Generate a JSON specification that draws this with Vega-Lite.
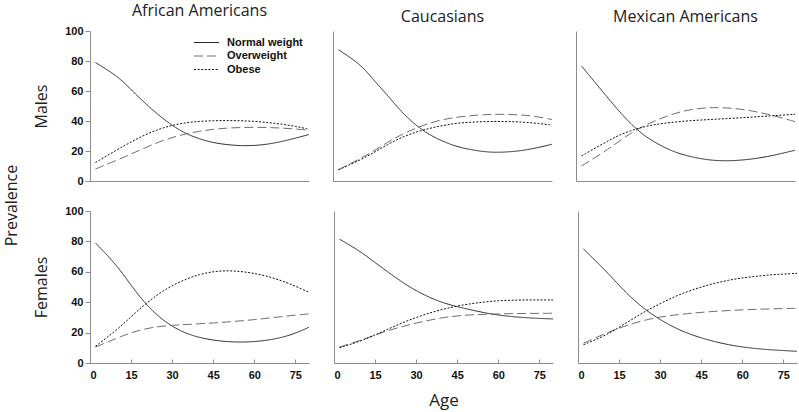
{
  "$schema": "https://vega.github.io/schema/vega-lite/v6.json",
  "background": "white",
  "padding": {"left": 3, "top": 3, "right": 2, "bottom": 2},
  "config": {
    "view": {"stroke": null},
    "axis": {"grid": false, "domainColor": "#8c8c8c", "tickColor": "#8c8c8c", "labelFont": "Liberation Sans", "labelFontWeight": "bold", "labelFontSize": 11, "labelColor": "#111111", "titleFont": "Open Sans", "titleFontWeight": "normal", "titleFontSize": 16, "titleColor": "#222222"},
    "title": {"font": "Open Sans", "fontWeight": "normal", "fontSize": 16, "color": "#222222", "offset": 6},
    "legend": {"orient": "top-right", "offset": 6, "title": null, "symbolType": "M-2.5,0H2.5", "symbolSize": 100, "labelFont": "Liberation Sans", "labelFontWeight": "bold", "labelFontSize": 11, "labelColor": "#111111", "rowPadding": 1.5, "labelOffset": 15},
    "line": {"interpolate": "basis"}
  },
  "title": {"text": "Prevalence", "orient": "left", "anchor": "middle", "fontSize": 16, "offset": 14},
  "spacing": 19,
  "resolve": {"scale": {"color": "independent", "strokeDash": "independent", "strokeWidth": "independent"}, "legend": {"color": "independent", "strokeDash": "independent", "strokeWidth": "independent"}},
  "datasets": {
    "aa_m": [
      {"age":2,"cat":"Normal weight","pct":79},{"age":10,"cat":"Normal weight","pct":70},{"age":15,"cat":"Normal weight","pct":61},{"age":20,"cat":"Normal weight","pct":52},{"age":25,"cat":"Normal weight","pct":44},{"age":30,"cat":"Normal weight","pct":37},{"age":35,"cat":"Normal weight","pct":31.5},{"age":40,"cat":"Normal weight","pct":28},{"age":45,"cat":"Normal weight","pct":25.5},{"age":50,"cat":"Normal weight","pct":24.2},{"age":55,"cat":"Normal weight","pct":23.5},{"age":60,"cat":"Normal weight","pct":23.6},{"age":65,"cat":"Normal weight","pct":24.5},{"age":70,"cat":"Normal weight","pct":26.3},{"age":75,"cat":"Normal weight","pct":28.5},{"age":80,"cat":"Normal weight","pct":31},
      {"age":2,"cat":"Overweight","pct":8},{"age":10,"cat":"Overweight","pct":14},{"age":15,"cat":"Overweight","pct":18},{"age":20,"cat":"Overweight","pct":22},{"age":25,"cat":"Overweight","pct":26},{"age":30,"cat":"Overweight","pct":29},{"age":35,"cat":"Overweight","pct":31.5},{"age":40,"cat":"Overweight","pct":33.2},{"age":45,"cat":"Overweight","pct":34.5},{"age":50,"cat":"Overweight","pct":35.3},{"age":55,"cat":"Overweight","pct":35.7},{"age":60,"cat":"Overweight","pct":35.8},{"age":65,"cat":"Overweight","pct":35.7},{"age":70,"cat":"Overweight","pct":35.3},{"age":75,"cat":"Overweight","pct":34.7},{"age":80,"cat":"Overweight","pct":33.8},
      {"age":2,"cat":"Obese","pct":12.3},{"age":10,"cat":"Obese","pct":21},{"age":15,"cat":"Obese","pct":26},{"age":20,"cat":"Obese","pct":30.8},{"age":25,"cat":"Obese","pct":34.5},{"age":30,"cat":"Obese","pct":37.2},{"age":35,"cat":"Obese","pct":38.9},{"age":40,"cat":"Obese","pct":39.8},{"age":45,"cat":"Obese","pct":40.2},{"age":50,"cat":"Obese","pct":40.3},{"age":55,"cat":"Obese","pct":40.2},{"age":60,"cat":"Obese","pct":39.8},{"age":65,"cat":"Obese","pct":39},{"age":70,"cat":"Obese","pct":37.9},{"age":75,"cat":"Obese","pct":36.5},{"age":80,"cat":"Obese","pct":34.5}
    ],
    "ca_m": [
      {"age":2,"cat":"Normal weight","pct":87.5},{"age":10,"cat":"Normal weight","pct":78},{"age":15,"cat":"Normal weight","pct":67},{"age":20,"cat":"Normal weight","pct":57},{"age":25,"cat":"Normal weight","pct":46},{"age":30,"cat":"Normal weight","pct":37.5},{"age":35,"cat":"Normal weight","pct":31},{"age":40,"cat":"Normal weight","pct":26.5},{"age":45,"cat":"Normal weight","pct":23},{"age":50,"cat":"Normal weight","pct":21},{"age":55,"cat":"Normal weight","pct":19.5},{"age":60,"cat":"Normal weight","pct":19},{"age":65,"cat":"Normal weight","pct":19.5},{"age":70,"cat":"Normal weight","pct":20.5},{"age":75,"cat":"Normal weight","pct":22.3},{"age":80,"cat":"Normal weight","pct":24.5},
      {"age":2,"cat":"Overweight","pct":7.5},{"age":10,"cat":"Overweight","pct":15},{"age":15,"cat":"Overweight","pct":20},{"age":20,"cat":"Overweight","pct":26},{"age":25,"cat":"Overweight","pct":31},{"age":30,"cat":"Overweight","pct":35},{"age":35,"cat":"Overweight","pct":38.5},{"age":40,"cat":"Overweight","pct":41},{"age":45,"cat":"Overweight","pct":42.5},{"age":50,"cat":"Overweight","pct":43.5},{"age":55,"cat":"Overweight","pct":44.3},{"age":60,"cat":"Overweight","pct":44.5},{"age":65,"cat":"Overweight","pct":44.4},{"age":70,"cat":"Overweight","pct":43.9},{"age":75,"cat":"Overweight","pct":42.8},{"age":80,"cat":"Overweight","pct":41},
      {"age":2,"cat":"Obese","pct":7.5},{"age":10,"cat":"Obese","pct":14},{"age":15,"cat":"Obese","pct":19},{"age":20,"cat":"Obese","pct":24.5},{"age":25,"cat":"Obese","pct":29},{"age":30,"cat":"Obese","pct":32.5},{"age":35,"cat":"Obese","pct":35},{"age":40,"cat":"Obese","pct":37},{"age":45,"cat":"Obese","pct":38.5},{"age":50,"cat":"Obese","pct":39.2},{"age":55,"cat":"Obese","pct":39.6},{"age":60,"cat":"Obese","pct":39.7},{"age":65,"cat":"Obese","pct":39.6},{"age":70,"cat":"Obese","pct":39.2},{"age":75,"cat":"Obese","pct":38.4},{"age":80,"cat":"Obese","pct":37.3}
    ],
    "ma_m": [
      {"age":2,"cat":"Normal weight","pct":76.7},{"age":10,"cat":"Normal weight","pct":59},{"age":15,"cat":"Normal weight","pct":48},{"age":20,"cat":"Normal weight","pct":38},{"age":25,"cat":"Normal weight","pct":30},{"age":30,"cat":"Normal weight","pct":24.5},{"age":35,"cat":"Normal weight","pct":20},{"age":40,"cat":"Normal weight","pct":17},{"age":45,"cat":"Normal weight","pct":15},{"age":50,"cat":"Normal weight","pct":13.7},{"age":55,"cat":"Normal weight","pct":13.4},{"age":60,"cat":"Normal weight","pct":13.8},{"age":65,"cat":"Normal weight","pct":14.8},{"age":70,"cat":"Normal weight","pct":16.3},{"age":75,"cat":"Normal weight","pct":18.3},{"age":80,"cat":"Normal weight","pct":20.5},
      {"age":2,"cat":"Overweight","pct":10},{"age":10,"cat":"Overweight","pct":19},{"age":15,"cat":"Overweight","pct":25.5},{"age":20,"cat":"Overweight","pct":32},{"age":25,"cat":"Overweight","pct":37},{"age":30,"cat":"Overweight","pct":41},{"age":35,"cat":"Overweight","pct":44.5},{"age":40,"cat":"Overweight","pct":47},{"age":45,"cat":"Overweight","pct":48.5},{"age":50,"cat":"Overweight","pct":49},{"age":55,"cat":"Overweight","pct":48.8},{"age":60,"cat":"Overweight","pct":48},{"age":65,"cat":"Overweight","pct":46.5},{"age":70,"cat":"Overweight","pct":44.5},{"age":75,"cat":"Overweight","pct":42.2},{"age":80,"cat":"Overweight","pct":39.6},
      {"age":2,"cat":"Obese","pct":16.7},{"age":10,"cat":"Obese","pct":25},{"age":15,"cat":"Obese","pct":30},{"age":20,"cat":"Obese","pct":33.7},{"age":25,"cat":"Obese","pct":36.3},{"age":30,"cat":"Obese","pct":38},{"age":35,"cat":"Obese","pct":39.1},{"age":40,"cat":"Obese","pct":40},{"age":45,"cat":"Obese","pct":40.6},{"age":50,"cat":"Obese","pct":41.1},{"age":55,"cat":"Obese","pct":41.6},{"age":60,"cat":"Obese","pct":42.1},{"age":65,"cat":"Obese","pct":42.7},{"age":70,"cat":"Obese","pct":43.3},{"age":75,"cat":"Obese","pct":43.9},{"age":80,"cat":"Obese","pct":44.5}
    ],
    "aa_f": [
      {"age":2,"cat":"Normal weight","pct":79},{"age":10,"cat":"Normal weight","pct":64},{"age":15,"cat":"Normal weight","pct":51},{"age":20,"cat":"Normal weight","pct":39.5},{"age":25,"cat":"Normal weight","pct":30.5},{"age":30,"cat":"Normal weight","pct":24},{"age":35,"cat":"Normal weight","pct":19.5},{"age":40,"cat":"Normal weight","pct":16.7},{"age":45,"cat":"Normal weight","pct":15},{"age":50,"cat":"Normal weight","pct":14},{"age":55,"cat":"Normal weight","pct":13.7},{"age":60,"cat":"Normal weight","pct":14},{"age":65,"cat":"Normal weight","pct":15},{"age":70,"cat":"Normal weight","pct":16.7},{"age":75,"cat":"Normal weight","pct":19.5},{"age":80,"cat":"Normal weight","pct":23.5},
      {"age":2,"cat":"Overweight","pct":10.5},{"age":10,"cat":"Overweight","pct":16.5},{"age":15,"cat":"Overweight","pct":20},{"age":20,"cat":"Overweight","pct":22.5},{"age":25,"cat":"Overweight","pct":24},{"age":30,"cat":"Overweight","pct":24.8},{"age":35,"cat":"Overweight","pct":25.3},{"age":40,"cat":"Overweight","pct":25.8},{"age":45,"cat":"Overweight","pct":26.3},{"age":50,"cat":"Overweight","pct":27},{"age":55,"cat":"Overweight","pct":27.7},{"age":60,"cat":"Overweight","pct":28.5},{"age":65,"cat":"Overweight","pct":29.5},{"age":70,"cat":"Overweight","pct":30.5},{"age":75,"cat":"Overweight","pct":31.5},{"age":80,"cat":"Overweight","pct":32.3},
      {"age":2,"cat":"Obese","pct":11},{"age":10,"cat":"Obese","pct":22},{"age":15,"cat":"Obese","pct":30.5},{"age":20,"cat":"Obese","pct":38.5},{"age":25,"cat":"Obese","pct":45.5},{"age":30,"cat":"Obese","pct":51},{"age":35,"cat":"Obese","pct":55.2},{"age":40,"cat":"Obese","pct":58.3},{"age":45,"cat":"Obese","pct":60.2},{"age":50,"cat":"Obese","pct":60.8},{"age":55,"cat":"Obese","pct":60.3},{"age":60,"cat":"Obese","pct":59},{"age":65,"cat":"Obese","pct":57},{"age":70,"cat":"Obese","pct":54.2},{"age":75,"cat":"Obese","pct":50.6},{"age":80,"cat":"Obese","pct":46.5}
    ],
    "ca_f": [
      {"age":2,"cat":"Normal weight","pct":81.5},{"age":10,"cat":"Normal weight","pct":73},{"age":15,"cat":"Normal weight","pct":66},{"age":20,"cat":"Normal weight","pct":59.5},{"age":25,"cat":"Normal weight","pct":53},{"age":30,"cat":"Normal weight","pct":47.5},{"age":35,"cat":"Normal weight","pct":43},{"age":40,"cat":"Normal weight","pct":39.5},{"age":45,"cat":"Normal weight","pct":37},{"age":50,"cat":"Normal weight","pct":35},{"age":55,"cat":"Normal weight","pct":33},{"age":60,"cat":"Normal weight","pct":31.5},{"age":65,"cat":"Normal weight","pct":30.5},{"age":70,"cat":"Normal weight","pct":29.8},{"age":75,"cat":"Normal weight","pct":29.3},{"age":80,"cat":"Normal weight","pct":29},
      {"age":2,"cat":"Overweight","pct":10.5},{"age":10,"cat":"Overweight","pct":15},{"age":15,"cat":"Overweight","pct":18.5},{"age":20,"cat":"Overweight","pct":21.5},{"age":25,"cat":"Overweight","pct":24},{"age":30,"cat":"Overweight","pct":26.3},{"age":35,"cat":"Overweight","pct":28.2},{"age":40,"cat":"Overweight","pct":30},{"age":45,"cat":"Overweight","pct":31},{"age":50,"cat":"Overweight","pct":31.7},{"age":55,"cat":"Overweight","pct":32},{"age":60,"cat":"Overweight","pct":32.3},{"age":65,"cat":"Overweight","pct":32.5},{"age":70,"cat":"Overweight","pct":32.6},{"age":75,"cat":"Overweight","pct":32.7},{"age":80,"cat":"Overweight","pct":32.7},
      {"age":2,"cat":"Obese","pct":10},{"age":10,"cat":"Obese","pct":14.5},{"age":15,"cat":"Obese","pct":18.5},{"age":20,"cat":"Obese","pct":22.5},{"age":25,"cat":"Obese","pct":26.5},{"age":30,"cat":"Obese","pct":30},{"age":35,"cat":"Obese","pct":33},{"age":40,"cat":"Obese","pct":35.5},{"age":45,"cat":"Obese","pct":37.5},{"age":50,"cat":"Obese","pct":39},{"age":55,"cat":"Obese","pct":40.2},{"age":60,"cat":"Obese","pct":41},{"age":65,"cat":"Obese","pct":41.3},{"age":70,"cat":"Obese","pct":41.5},{"age":75,"cat":"Obese","pct":41.5},{"age":80,"cat":"Obese","pct":41.5}
    ],
    "ma_f": [
      {"age":2,"cat":"Normal weight","pct":75},{"age":10,"cat":"Normal weight","pct":61},{"age":15,"cat":"Normal weight","pct":51},{"age":20,"cat":"Normal weight","pct":42},{"age":25,"cat":"Normal weight","pct":34.5},{"age":30,"cat":"Normal weight","pct":28.5},{"age":35,"cat":"Normal weight","pct":23.5},{"age":40,"cat":"Normal weight","pct":19.5},{"age":45,"cat":"Normal weight","pct":16.5},{"age":50,"cat":"Normal weight","pct":14},{"age":55,"cat":"Normal weight","pct":12},{"age":60,"cat":"Normal weight","pct":10.5},{"age":65,"cat":"Normal weight","pct":9.5},{"age":70,"cat":"Normal weight","pct":8.7},{"age":75,"cat":"Normal weight","pct":8.2},{"age":80,"cat":"Normal weight","pct":7.7},
      {"age":2,"cat":"Overweight","pct":13},{"age":10,"cat":"Overweight","pct":19.5},{"age":15,"cat":"Overweight","pct":23},{"age":20,"cat":"Overweight","pct":26},{"age":25,"cat":"Overweight","pct":28.5},{"age":30,"cat":"Overweight","pct":30.3},{"age":35,"cat":"Overweight","pct":31.5},{"age":40,"cat":"Overweight","pct":32.5},{"age":45,"cat":"Overweight","pct":33.3},{"age":50,"cat":"Overweight","pct":34},{"age":55,"cat":"Overweight","pct":34.5},{"age":60,"cat":"Overweight","pct":35},{"age":65,"cat":"Overweight","pct":35.3},{"age":70,"cat":"Overweight","pct":35.6},{"age":75,"cat":"Overweight","pct":35.8},{"age":80,"cat":"Overweight","pct":36},
      {"age":2,"cat":"Obese","pct":12},{"age":10,"cat":"Obese","pct":18},{"age":15,"cat":"Obese","pct":23.5},{"age":20,"cat":"Obese","pct":29},{"age":25,"cat":"Obese","pct":34.5},{"age":30,"cat":"Obese","pct":39},{"age":35,"cat":"Obese","pct":43.5},{"age":40,"cat":"Obese","pct":47},{"age":45,"cat":"Obese","pct":50},{"age":50,"cat":"Obese","pct":52.5},{"age":55,"cat":"Obese","pct":54.5},{"age":60,"cat":"Obese","pct":56},{"age":65,"cat":"Obese","pct":57},{"age":70,"cat":"Obese","pct":58},{"age":75,"cat":"Obese","pct":58.5},{"age":80,"cat":"Obese","pct":59}
    ]
  },
  "vconcat": [
    {
      "spacing": 22,
      "resolve": {"scale": {"color": "independent", "strokeDash": "independent", "strokeWidth": "independent"}, "legend": {"color": "independent", "strokeDash": "independent", "strokeWidth": "independent"}},
      "hconcat": [
        {
          "data": {"name": "aa_m"}, "width": 219, "height": 150,
          "title": "African Americans",
          "mark": {"type": "line"},
          "encoding": {
            "x": {"field": "age", "type": "quantitative", "scale": {"domain": [0, 80], "nice": false}, "axis": {"labels": false, "ticks": false, "title": null}},
            "y": {"field": "pct", "type": "quantitative", "scale": {"domain": [0, 100], "nice": false}, "axis": {"values": [0, 20, 40, 60, 80, 100], "tickSize": 5, "labelPadding": 2, "title": "Males", "titlePadding": 15}},
            "color": {"field": "cat", "type": "nominal", "scale": {"domain": ["Normal weight", "Overweight", "Obese"], "range": ["#2a2a2a", "#6e6e6e", "#111111"]}, "legend": {}},
            "strokeDash": {"field": "cat", "type": "nominal", "scale": {"domain": ["Normal weight", "Overweight", "Obese"], "range": [[1, 0], [9, 4], [2, 1.6]]}, "legend": {}},
            "strokeWidth": {"field": "cat", "type": "ordinal", "scale": {"domain": ["Normal weight", "Overweight", "Obese"], "range": [1, 1, 2.2]}, "legend": {}}
          }
        },
        {
          "data": {"name": "ca_m"}, "width": 219, "height": 150,
          "title": "Caucasians",
          "mark": {"type": "line"},
          "encoding": {
            "x": {"field": "age", "type": "quantitative", "scale": {"domain": [0, 80], "nice": false}, "axis": {"labels": false, "ticks": false, "title": null}},
            "y": {"field": "pct", "type": "quantitative", "scale": {"domain": [0, 100], "nice": false}, "axis": {"labels": false, "ticks": false, "title": null}},
            "color": {"field": "cat", "type": "nominal", "scale": {"domain": ["Normal weight", "Overweight", "Obese"], "range": ["#2a2a2a", "#6e6e6e", "#111111"]}, "legend": null},
            "strokeDash": {"field": "cat", "type": "nominal", "scale": {"domain": ["Normal weight", "Overweight", "Obese"], "range": [[1, 0], [9, 4], [2, 1.6]]}, "legend": null},
            "strokeWidth": {"field": "cat", "type": "ordinal", "scale": {"domain": ["Normal weight", "Overweight", "Obese"], "range": [1, 1, 2.2]}, "legend": null}
          }
        },
        {
          "data": {"name": "ma_m"}, "width": 219, "height": 150,
          "title": "Mexican Americans",
          "mark": {"type": "line"},
          "encoding": {
            "x": {"field": "age", "type": "quantitative", "scale": {"domain": [0, 80], "nice": false}, "axis": {"labels": false, "ticks": false, "title": null}},
            "y": {"field": "pct", "type": "quantitative", "scale": {"domain": [0, 100], "nice": false}, "axis": {"labels": false, "ticks": false, "title": null}},
            "color": {"field": "cat", "type": "nominal", "scale": {"domain": ["Normal weight", "Overweight", "Obese"], "range": ["#2a2a2a", "#6e6e6e", "#111111"]}, "legend": null},
            "strokeDash": {"field": "cat", "type": "nominal", "scale": {"domain": ["Normal weight", "Overweight", "Obese"], "range": [[1, 0], [9, 4], [2, 1.6]]}, "legend": null},
            "strokeWidth": {"field": "cat", "type": "ordinal", "scale": {"domain": ["Normal weight", "Overweight", "Obese"], "range": [1, 1, 2.2]}, "legend": null}
          }
        }
      ]
    },
    {
      "spacing": 22,
      "resolve": {"scale": {"color": "independent", "strokeDash": "independent", "strokeWidth": "independent"}, "legend": {"color": "independent", "strokeDash": "independent", "strokeWidth": "independent"}},
      "hconcat": [
        {
          "data": {"name": "aa_f"}, "width": 219, "height": 152,
          "mark": {"type": "line"},
          "encoding": {
            "x": {"field": "age", "type": "quantitative", "scale": {"domain": [0, 80], "nice": false}, "axis": {"values": [0, 15, 30, 45, 60, 75], "tickSize": -4, "labelPadding": 10, "title": null}},
            "y": {"field": "pct", "type": "quantitative", "scale": {"domain": [0, 100], "nice": false}, "axis": {"values": [0, 20, 40, 60, 80, 100], "tickSize": 5, "labelPadding": 2, "title": "Females", "titlePadding": 15}},
            "color": {"field": "cat", "type": "nominal", "scale": {"domain": ["Normal weight", "Overweight", "Obese"], "range": ["#2a2a2a", "#6e6e6e", "#111111"]}, "legend": null},
            "strokeDash": {"field": "cat", "type": "nominal", "scale": {"domain": ["Normal weight", "Overweight", "Obese"], "range": [[1, 0], [9, 4], [2, 1.6]]}, "legend": null},
            "strokeWidth": {"field": "cat", "type": "ordinal", "scale": {"domain": ["Normal weight", "Overweight", "Obese"], "range": [1, 1, 2.2]}, "legend": null}
          }
        },
        {
          "data": {"name": "ca_f"}, "width": 219, "height": 152,
          "mark": {"type": "line"},
          "encoding": {
            "x": {"field": "age", "type": "quantitative", "scale": {"domain": [0, 80], "nice": false}, "axis": {"values": [0, 15, 30, 45, 60, 75], "tickSize": -4, "labelPadding": 10, "title": "Age", "titleFontSize": 17, "titlePadding": 12}},
            "y": {"field": "pct", "type": "quantitative", "scale": {"domain": [0, 100], "nice": false}, "axis": {"labels": false, "ticks": false, "title": null}},
            "color": {"field": "cat", "type": "nominal", "scale": {"domain": ["Normal weight", "Overweight", "Obese"], "range": ["#2a2a2a", "#6e6e6e", "#111111"]}, "legend": null},
            "strokeDash": {"field": "cat", "type": "nominal", "scale": {"domain": ["Normal weight", "Overweight", "Obese"], "range": [[1, 0], [9, 4], [2, 1.6]]}, "legend": null},
            "strokeWidth": {"field": "cat", "type": "ordinal", "scale": {"domain": ["Normal weight", "Overweight", "Obese"], "range": [1, 1, 2.2]}, "legend": null}
          }
        },
        {
          "data": {"name": "ma_f"}, "width": 219, "height": 152,
          "mark": {"type": "line"},
          "encoding": {
            "x": {"field": "age", "type": "quantitative", "scale": {"domain": [0, 80], "nice": false}, "axis": {"values": [0, 15, 30, 45, 60, 75], "tickSize": -4, "labelPadding": 10, "title": null}},
            "y": {"field": "pct", "type": "quantitative", "scale": {"domain": [0, 100], "nice": false}, "axis": {"labels": false, "ticks": false, "title": null}},
            "color": {"field": "cat", "type": "nominal", "scale": {"domain": ["Normal weight", "Overweight", "Obese"], "range": ["#2a2a2a", "#6e6e6e", "#111111"]}, "legend": null},
            "strokeDash": {"field": "cat", "type": "nominal", "scale": {"domain": ["Normal weight", "Overweight", "Obese"], "range": [[1, 0], [9, 4], [2, 1.6]]}, "legend": null},
            "strokeWidth": {"field": "cat", "type": "ordinal", "scale": {"domain": ["Normal weight", "Overweight", "Obese"], "range": [1, 1, 2.2]}, "legend": null}
          }
        }
      ]
    }
  ]
}
